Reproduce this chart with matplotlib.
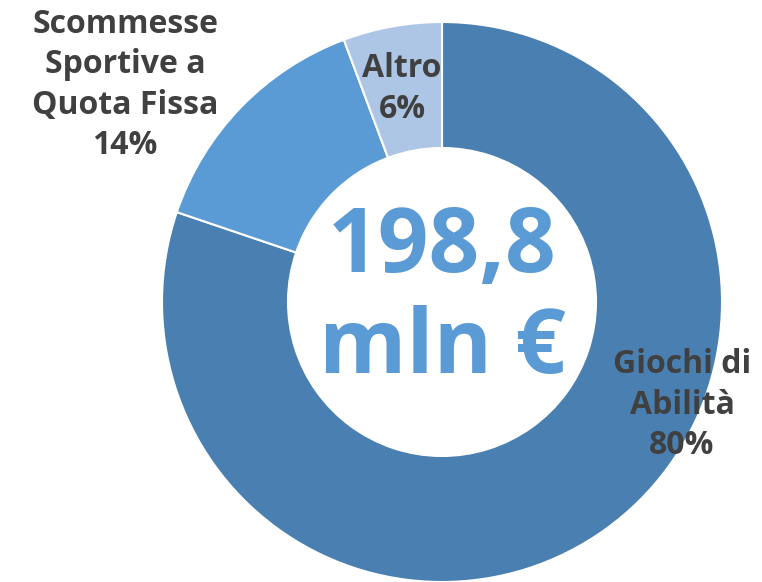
import matplotlib.pyplot as plt

categories = ["Giochi di\nAbilità", "Scommesse\nSportive a\nQuota Fissa", "Altro"]
shares = [80.2, 14.1, 5.7]
pct_labels = ["80%", "14%", "6%"]
total_lines = ["198,8", "mln €"]

COLORS = ["#4A7FB1", "#5B9BD5", "#ADC6E5"]
TEXT_DARK = "#404040"
FONT = "Open Sans"

fig = plt.figure(figsize=(7.62, 5.82), dpi=100)
# axes sized so the ring sits at the same pixel position as the reference
cx, cy, r = 442, 302, 280
ax = fig.add_axes([(cx - r) / 762, (582 - cy - r) / 582, 2 * r / 762, 2 * r / 582])

wedges, _ = ax.pie(shares, colors=COLORS, startangle=90, counterclock=False,
                   radius=1, wedgeprops=dict(width=0.45, edgecolor="white", linewidth=1.5))
# pie() resets the limits, so set them afterwards
ax.set_xlim(-1, 1)
ax.set_ylim(-1, 1)
ax.axis("off")

# label positions in axes units (ring radius = 1)
label_pos = [(0.857, -0.368), (-1.132, 0.775), (-0.143, 0.761)]
for name, pct, (x, y) in zip(categories, pct_labels, label_pos):
    ax.text(x, y, f"{name}\n{pct}", ha="center", va="center", fontsize=23,
            fontweight="bold", color=TEXT_DARK, family=FONT, linespacing=1.3,
            clip_on=False)

# big total in the hole
for txt, y in zip(total_lines, [0.107, -0.254]):
    ax.text(0, y, txt, ha="center", va="baseline", fontsize=64,
            fontweight="bold", color="#5B9BD5", family=FONT)

fig.savefig("out.png", dpi=100)
